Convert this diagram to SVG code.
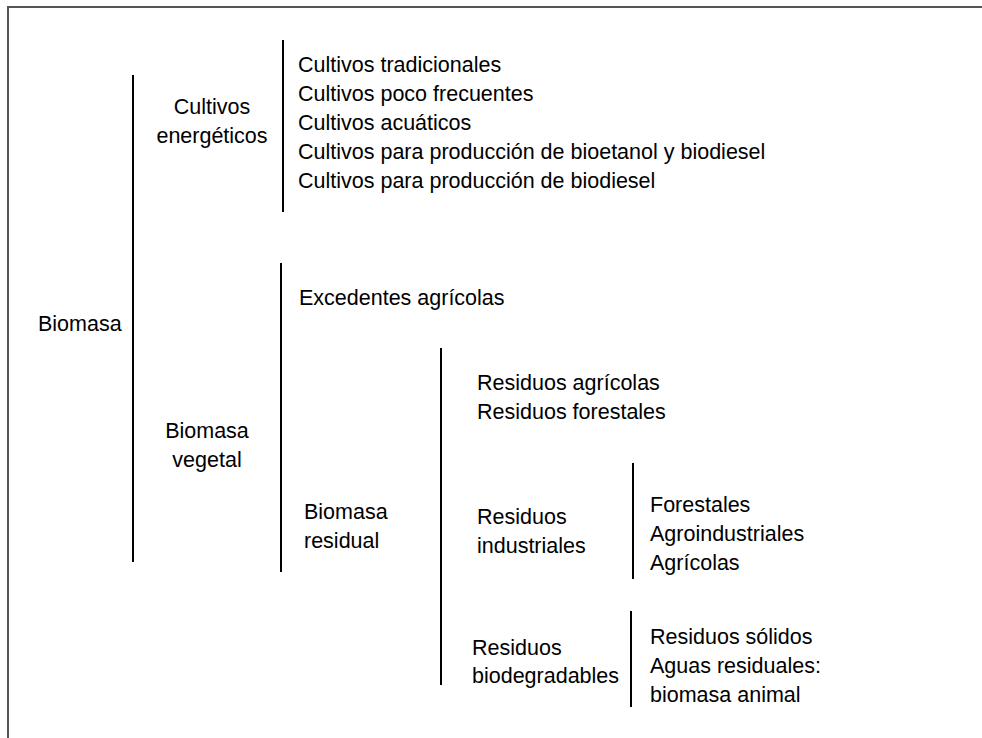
<svg xmlns="http://www.w3.org/2000/svg" width="982" height="738" viewBox="0 0 982 738">
<style>
  text { font-family: "Liberation Sans", Arial, sans-serif; font-size: 21.5px; fill: #000; }
  .c { text-anchor: middle; }
  .br { stroke: #000; stroke-width: 2; fill: none; }
  .frame { stroke: #555; stroke-width: 2; fill: none; }
</style>
<rect width="982" height="738" fill="#fff"/>
<path class="frame" d="M8 738 V7 H982"/>
<g id="connectors">
  <line class="br" x1="133" y1="75" x2="133" y2="562"/>
  <line class="br" x1="283" y1="40" x2="283" y2="212"/>
  <line class="br" x1="281" y1="263" x2="281" y2="572"/>
  <line class="br" x1="441" y1="348" x2="441" y2="685"/>
  <line class="br" x1="633" y1="463" x2="633" y2="579"/>
  <line class="br" x1="631" y1="611" x2="631" y2="707"/>
</g>
<g id="biomasa"><text x="38" y="331">Biomasa</text></g>
<g id="cultivos-energeticos">
  <text class="c" x="212" y="114">Cultivos</text>
  <text class="c" x="212" y="143">energéticos</text>
</g>
<g id="cultivos-lista">
  <text x="298" y="72">Cultivos tradicionales</text>
  <text x="298" y="101">Cultivos poco frecuentes</text>
  <text x="298" y="130">Cultivos acuáticos</text>
  <text x="298" y="159">Cultivos para producción de bioetanol y biodiesel</text>
  <text x="298" y="188">Cultivos para producción de biodiesel</text>
</g>
<g id="biomasa-vegetal">
  <text class="c" x="207" y="438">Biomasa</text>
  <text class="c" x="207" y="467">vegetal</text>
</g>
<g id="excedentes"><text x="299" y="305">Excedentes agrícolas</text></g>
<g id="biomasa-residual">
  <text x="304" y="519">Biomasa</text>
  <text x="304" y="548">residual</text>
</g>
<g id="residuos-agr-for">
  <text x="477" y="390">Residuos agrícolas</text>
  <text x="477" y="419">Residuos forestales</text>
</g>
<g id="residuos-industriales">
  <text x="477" y="524">Residuos</text>
  <text x="477" y="553">industriales</text>
</g>
<g id="industriales-lista">
  <text x="650" y="512">Forestales</text>
  <text x="650" y="541">Agroindustriales</text>
  <text x="650" y="570">Agrícolas</text>
</g>
<g id="residuos-biodegradables">
  <text x="472" y="655">Residuos</text>
  <text x="472" y="683">biodegradables</text>
</g>
<g id="biodegradables-lista">
  <text x="650" y="644">Residuos sólidos</text>
  <text x="650" y="673">Aguas residuales:</text>
  <text x="650" y="702">biomasa animal</text>
</g>
</svg>
